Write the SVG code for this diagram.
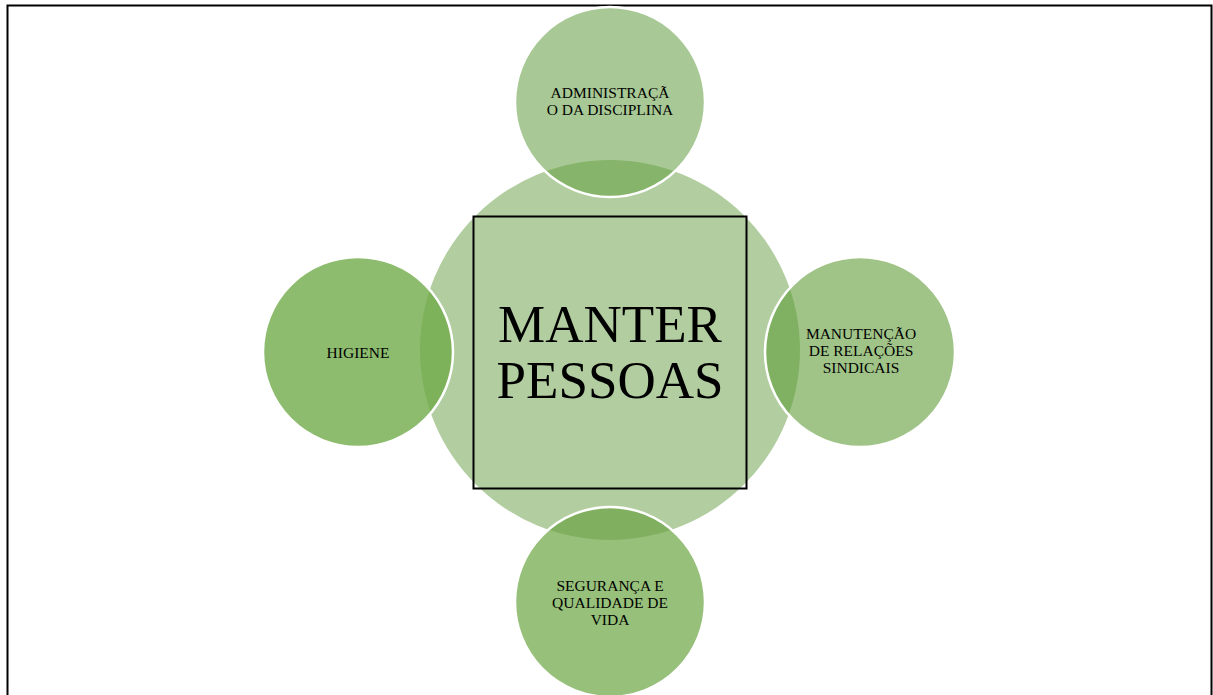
<svg xmlns="http://www.w3.org/2000/svg" width="1213" height="695" viewBox="0 0 1213 695">
<style>
.lbl{font-family:"Liberation Serif","Times New Roman",serif;font-size:15.5px;fill:#000;text-anchor:middle}
.big{font-family:"Liberation Serif","Times New Roman",serif;font-size:53px;fill:#000;text-anchor:middle}
.ring{stroke:#fff;stroke-width:2.5;fill:none}
</style>
<defs>
<clipPath id="cT"><circle cx="610" cy="102" r="95"/></clipPath>
<clipPath id="cL"><circle cx="358" cy="352" r="95"/></clipPath>
<clipPath id="cR"><circle cx="860" cy="352" r="95"/></clipPath>
<clipPath id="cB"><circle cx="610" cy="602" r="95"/></clipPath>
</defs>
<rect width="1213" height="695" fill="#fff"/>
<path d="M7.5,695 V5.5 H1211.5 V695" fill="none" stroke="#000" stroke-width="2"/>
<g id="center">
<circle cx="610" cy="350" r="190" fill="#b2cea1"/>
</g>
<g id="n-top">
<circle cx="610" cy="102" r="95" fill="#a8c995"/>
<circle cx="610" cy="350" r="190" fill="#86b46b" clip-path="url(#cT)"/>
<circle cx="610" cy="102" r="95" class="ring"/>
<text class="lbl" x="610" y="98">ADMINISTRAÇÃ</text>
<text class="lbl" x="610" y="115">O DA DISCIPLINA</text>
</g>
<g id="n-left">
<circle cx="358" cy="352" r="95" fill="#8dbc6e"/>
<circle cx="610" cy="350" r="190" fill="#7db25a" clip-path="url(#cL)"/>
<circle cx="358" cy="352" r="95" class="ring"/>
<text class="lbl" x="358" y="358">HIGIENE</text>
</g>
<g id="n-right">
<circle cx="860" cy="352" r="95" fill="#a0c488"/>
<circle cx="610" cy="350" r="190" fill="#80b062" clip-path="url(#cR)"/>
<circle cx="860" cy="352" r="95" class="ring"/>
<text class="lbl" x="861" y="339">MANUTENÇÃO</text>
<text class="lbl" x="861" y="356">DE RELAÇÕES</text>
<text class="lbl" x="861" y="373">SINDICAIS</text>
</g>
<g id="n-bottom">
<circle cx="610" cy="602" r="95" fill="#97c07b"/>
<circle cx="610" cy="350" r="190" fill="#80b05f" clip-path="url(#cB)"/>
<circle cx="610" cy="602" r="95" class="ring"/>
<text class="lbl" x="610" y="591">SEGURANÇA E</text>
<text class="lbl" x="610" y="608">QUALIDADE DE</text>
<text class="lbl" x="610" y="625">VIDA</text>
</g>
<g id="square">
<rect x="473.5" y="216.5" width="273" height="272" fill="none" stroke="#000" stroke-width="2"/>
<text class="big" x="610" y="342">MANTER</text>
<text class="big" x="610" y="398">PESSOAS</text>
</g>
<g id="connectors"></g>
</svg>
